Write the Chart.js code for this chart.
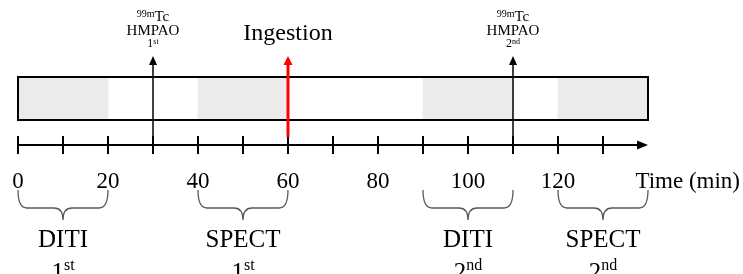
<!DOCTYPE html>
<html>
<head>
<meta charset="utf-8">
<script src="https://cdn.jsdelivr.net/npm/chart.js@4"></script>
<style>
body { margin: 0; background: #fff; }
#wrap { width: 743px; height: 274px; position: relative; }
</style>
</head>
<body>
<div id="wrap"><canvas id="Chart"></canvas></div>
<script>
// measurement sessions, in minutes
var periodStart = [0, 40, 90, 120];
var periodEnd = [20, 60, 110, 140];
var periodName = ['DITI', 'SPECT', 'DITI', 'SPECT'];
var periodOrder = ['1st', '1st', '2nd', '2nd'];

// events on the time line
var eventTime = [30, 60, 110];
var eventKind = ['HMPAO', 'Ingestion', 'HMPAO'];
var eventOrder = ['1st', '', '2nd'];

// axis
var tickMarks = [0, 10, 20, 30, 40, 50, 60, 70, 80, 90, 100, 110, 120, 130];
var tickLabels = [0, 20, 40, 60, 80, 100, 120];
var axisTitle = 'Time (min)';

var serif = "'Liberation Serif', 'Times New Roman', serif";

function drawOrdinal(ctx, text, x, base, size, subSize, rise) {
    var num = text.match(/^\d+/)[0];
    var suf = text.slice(num.length);
    ctx.font = size + 'px ' + serif;
    var w1 = ctx.measureText(num).width;
    ctx.font = subSize + 'px ' + serif;
    var w2 = ctx.measureText(suf).width;
    var left = x - (w1 + w2) / 2;
    ctx.textAlign = 'left';
    ctx.font = size + 'px ' + serif;
    ctx.fillText(num, left, base);
    ctx.font = subSize + 'px ' + serif;
    ctx.fillText(suf, left + w1, base - rise);
}

function drawBrace(ctx, x1, x2, y0, y1, y2) {
    var xm = (x1 + x2) / 2, r = 9;
    ctx.beginPath();
    ctx.moveTo(x1, y0);
    ctx.quadraticCurveTo(x1, y1, x1 + r, y1);
    ctx.lineTo(xm - r, y1);
    ctx.quadraticCurveTo(xm, y1, xm, y2);
    ctx.quadraticCurveTo(xm, y1, xm + r, y1);
    ctx.lineTo(x2 - r, y1);
    ctx.quadraticCurveTo(x2, y1, x2, y0);
    ctx.stroke();
}

const timeline = {
    id: 'timeline',
    afterDatasetsDraw(chart) {
        const ctx = chart.ctx;
        const area = chart.chartArea;
        const xs = chart.scales.x;
        const axisY = area.bottom + 25;
        ctx.save();
        ctx.fillStyle = '#000';
        ctx.strokeStyle = '#000';
        ctx.textBaseline = 'alphabetic';

        // outline of the session bar
        ctx.lineWidth = 2;
        ctx.strokeRect(area.left, area.top, area.right - area.left, area.bottom - area.top);

        // time axis with arrow
        var x0 = xs.getPixelForValue(0);
        var xEnd = area.right;
        ctx.beginPath();
        ctx.moveTo(x0 - 1, axisY);
        ctx.lineTo(xEnd - 6, axisY);
        ctx.stroke();
        ctx.beginPath();
        ctx.moveTo(xEnd, axisY);
        ctx.lineTo(xEnd - 11, axisY - 4.5);
        ctx.lineTo(xEnd - 11, axisY + 4.5);
        ctx.closePath();
        ctx.fill();

        tickMarks.forEach(function (t) {
            var px = xs.getPixelForValue(t);
            ctx.beginPath();
            ctx.moveTo(px, axisY - 9);
            ctx.lineTo(px, axisY + 9);
            ctx.stroke();
        });

        ctx.font = '23px ' + serif;
        ctx.textAlign = 'center';
        tickLabels.forEach(function (t) {
            ctx.fillText(String(t), xs.getPixelForValue(t), axisY + 43);
        });
        ctx.textAlign = 'right';
        ctx.fillText(axisTitle, chart.width - 3, axisY + 43);

        // braces and session names
        ctx.strokeStyle = '#5a5a5a';
        ctx.lineWidth = 1.3;
        for (var i = 0; i < periodStart.length; i++) {
            var a = xs.getPixelForValue(periodStart[i]);
            var b = xs.getPixelForValue(periodEnd[i]);
            drawBrace(ctx, a, b, axisY + 45, axisY + 63, axisY + 75);
            var mid = (a + b) / 2;
            ctx.font = '25px ' + serif;
            ctx.textAlign = 'center';
            ctx.fillText(periodName[i], mid, axisY + 102);
            drawOrdinal(ctx, periodOrder[i], mid, axisY + 135, 25, 16, 10);
        }

        // event arrows
        eventTime.forEach(function (t, k) {
            var px = xs.getPixelForValue(t);
            var tip = area.top - 21;
            var red = eventKind[k] === 'Ingestion';
            var col = red ? '#ff0000' : '#000';
            ctx.strokeStyle = col;
            ctx.fillStyle = col;
            ctx.lineWidth = red ? 3 : 1.5;
            ctx.beginPath();
            ctx.moveTo(px, tip + 6);
            ctx.lineTo(px, red ? axisY - 8 : axisY);
            ctx.stroke();
            var hw = red ? 4.5 : 4;
            ctx.beginPath();
            ctx.moveTo(px, tip);
            ctx.lineTo(px - hw, tip + 9);
            ctx.lineTo(px + hw, tip + 9);
            ctx.closePath();
            ctx.fill();

            ctx.fillStyle = '#000';
            if (red) {
                ctx.font = '24px ' + serif;
                ctx.textAlign = 'center';
                ctx.fillText(eventKind[k], px, tip - 16);
            } else {
                ctx.font = '10px ' + serif;
                var wIso = ctx.measureText('99m').width;
                ctx.font = '15px ' + serif;
                var wTc = ctx.measureText('Tc').width;
                var left = px - (wIso + wTc) / 2;
                ctx.textAlign = 'left';
                ctx.font = '10px ' + serif;
                ctx.fillText('99m', left, tip - 39);
                ctx.font = '15px ' + serif;
                ctx.fillText('Tc', left + wIso, tip - 35);
                ctx.textAlign = 'center';
                ctx.fillText(eventKind[k], px, tip - 21);
                drawOrdinal(ctx, eventOrder[k], px, tip - 9, 12, 8, 3);
            }
        });
        ctx.restore();
    }
};

var bars = periodStart.map(function (s, i) {
    return { x: [s, periodEnd[i]], y: 'session' };
});

const ctx = document.getElementById('Chart').getContext('2d');
const Charts = new Chart(ctx, {
    type: 'bar',
    data: {
        labels: ['session'],
        datasets: [{
            data: bars,
            backgroundColor: '#ebebeb',
            borderWidth: 0,
            barPercentage: 1,
            categoryPercentage: 1
        }]
    },
    options: {
        indexAxis: 'y',
        responsive: true,
        maintainAspectRatio: false,
        animation: false,
        layout: { padding: { top: 77, bottom: 154, left: 18, right: 95 } },
        scales: {
            x: { type: 'linear', min: 0, max: 140, display: false },
            y: { type: 'category', display: false }
        },
        plugins: {
            legend: { display: false },
            tooltip: { enabled: false }
        }
    },
    plugins: [timeline]
});
</script>
</body>
</html>
